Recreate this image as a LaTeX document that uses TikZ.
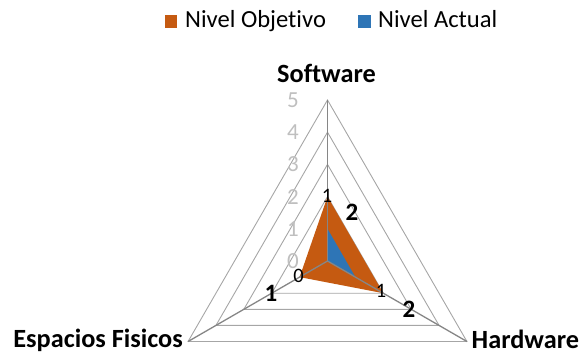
\documentclass[tikz,border=0pt]{standalone}
\usepackage{fontspec}
\setmainfont[Ligatures=NoCommon]{Carlito}
\usetikzlibrary{calc}
\definecolor{objcol}{RGB}{197,90,17}
\definecolor{actcol}{RGB}{46,117,182}
\definecolor{gridcol}{RGB}{166,166,166}
\definecolor{spokecol}{RGB}{134,134,134}
\definecolor{ticklab}{RGB}{191,191,191}
\tikzset{
  gridline/.style={draw=gridcol, line width=0.9pt},
  spoke/.style={draw=spokecol, line width=1.3pt},
  catlabel/.style={font=\fontsize{26.3}{26}\selectfont\bfseries, inner sep=0pt},
  ticklabel/.style={font=\fontsize{23}{23}\selectfont, text=ticklab, inner sep=0pt},
  objlabel/.style={font=\fontsize{25}{25}\selectfont\bfseries, inner sep=0pt},
  actlabel/.style={font=\fontsize{20.5}{20}\selectfont, inner sep=0pt},
  legtext/.style={font=\fontsize{24.6}{24}\selectfont, inner sep=0pt, anchor=base west},
}
\begin{document}
\begin{tikzpicture}[x=1pt,y=1pt]
\useasboundingbox (0,0) rectangle (582,357);
\coordinate (C) at (327.5,96);
\def\u{32.2}
% grid triangles
\foreach \k in {1,...,5}{
  \draw[gridline] ($(C)+(90:\k*\u)$) -- ($(C)+(-30:\k*\u)$) -- ($(C)+(210:\k*\u)$) -- cycle;
}
\coordinate (S5) at ($(C)+(90:5*\u)$);
\coordinate (H5) at ($(C)+(-30:5*\u)$);
\coordinate (E5) at ($(C)+(210:5*\u)$);
% Nivel Objetivo: 2,2,1
\coordinate (So) at ($(C)+(90:2*\u)$);
\coordinate (Ho) at ($(C)+(-30:2*\u)$);
\coordinate (Eo) at ($(C)+(210:1*\u)$);
\fill[objcol] (So) -- (Ho) -- (Eo) -- cycle;
% Nivel Actual: 1,1,0
\coordinate (Sa) at ($(C)+(90:1*\u)$);
\coordinate (Ha) at ($(C)+(-30:1*\u)$);
\fill[actcol] (Sa) -- (Ha) -- (C) -- cycle;
% spokes
\draw[spoke] (C) -- (S5);
\draw[spoke] (C) -- (H5);
\draw[spoke] (C) -- (E5);
% tick labels
\foreach \k in {0,...,5}{
  \node[ticklabel] (t\k) at ($(C)+(-34.5,\k*\u)$) {\k};
}
% category labels
\node[catlabel, anchor=base] (soft) at (326.5,274) {Software};
\node[catlabel, anchor=base west] (hard) at (471.5,9) {Hardware};
\node[catlabel, anchor=base east] (esp) at (183,10) {Espacios Fisicos};
% data labels
\node[objlabel] (dso) at (352,145) {2};
\node[objlabel] (dho) at (409,48) {2};
\node[objlabel] (deo) at (271,64) {1};
\node[actlabel] (dsa) at (327,161) {1};
\node[actlabel] (dha) at (381,66) {1};
\node[actlabel] (dea) at (298.5,81) {0};
% legend
\fill[objcol] (165,329) rectangle (177,342);
\node[legtext] (lo) at (185,329.5) {Nivel Objetivo};
\fill[actcol] (358,329) rectangle (371,342);
\node[legtext] (la) at (378,329.5) {Nivel Actual};
\end{tikzpicture}
\end{document}
